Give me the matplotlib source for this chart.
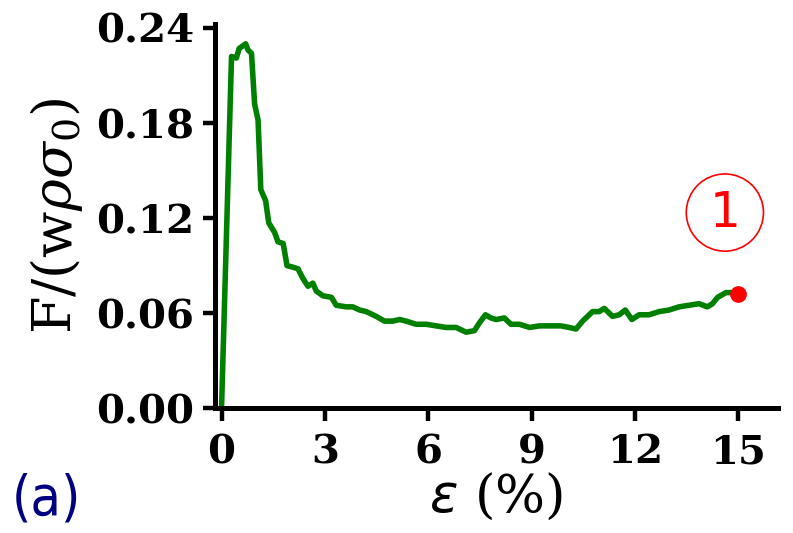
import matplotlib
matplotlib.use("Agg")
import matplotlib.pyplot as plt

# --- DATA ---
strain = [0.0, 0.29, 0.43, 0.51, 0.70, 0.77, 0.87, 0.96, 1.06, 1.14,
          1.28, 1.37, 1.54, 1.64, 1.79, 1.90, 2.08, 2.22, 2.36, 2.51,
          2.65, 2.75, 2.94, 3.19, 3.33, 3.62, 3.81, 4.01, 4.20, 4.49,
          4.73, 4.97, 5.17, 5.36, 5.65, 5.94, 6.23, 6.52, 6.81, 7.10,
          7.34, 7.49, 7.66, 7.82, 7.97, 8.21, 8.40, 8.65, 8.94, 9.23,
          9.52, 9.85, 10.09, 10.29, 10.48, 10.77, 10.96, 11.11, 11.35, 11.54,
          11.72, 11.91, 12.12, 12.41, 12.70, 12.99, 13.28, 13.57, 13.86, 14.10,
          14.25, 14.40, 14.64, 14.79, 15.0]
force = [0.0, 0.222, 0.221, 0.227, 0.230, 0.226, 0.224, 0.192, 0.182, 0.138,
         0.131, 0.117, 0.111, 0.105, 0.104, 0.090, 0.089, 0.088, 0.082, 0.077,
         0.079, 0.074, 0.071, 0.070, 0.065, 0.064, 0.064, 0.062, 0.061, 0.058,
         0.055, 0.055, 0.056, 0.055, 0.053, 0.053, 0.052, 0.051, 0.051, 0.048,
         0.049, 0.054, 0.059, 0.057, 0.056, 0.057, 0.053, 0.053, 0.051, 0.052,
         0.052, 0.052, 0.051, 0.050, 0.055, 0.061, 0.061, 0.063, 0.058, 0.059,
         0.062, 0.056, 0.059, 0.059, 0.061, 0.062, 0.064, 0.065, 0.066, 0.064,
         0.066, 0.070, 0.073, 0.073, 0.072]

end_strain = [15.0]
end_force = [0.072]

x_ticks = [0, 3, 6, 9, 12, 15]
y_ticks = [0.00, 0.06, 0.12, 0.18, 0.24]
y_tick_labels = ["0.00", "0.06", "0.12", "0.18", "0.24"]

# --- PLOT ---
plt.rcParams['mathtext.fontset'] = 'dejavuserif'

fig = plt.figure(figsize=(7.93, 5.33), dpi=100)
ax = fig.add_axes([0.2711, 0.234, 0.7099, 0.721])

ax.plot(strain, force, color='green', linewidth=4, solid_joinstyle='round')
ax.plot(end_strain, end_force, 'o', color='red', markersize=11, clip_on=False)

# circled state label
ax.text(14.61, 0.1235, "1", color='red', fontsize=35, ha='center', va='center',
        family='DejaVu Sans',
        bbox=dict(boxstyle='circle,pad=0.3', ec='red', fc='none', lw=1.2))

ax.set_xlim(-0.19, 16.15)
ax.set_ylim(0, 0.2425)
ax.set_xticks(x_ticks)
ax.set_yticks(y_ticks)
ax.set_yticklabels(y_tick_labels)

for lab in ax.get_xticklabels() + ax.get_yticklabels():
    lab.set_family('DejaVu Serif')
    lab.set_fontweight('bold')
    lab.set_fontsize(29)

ax.spines['top'].set_visible(False)
ax.spines['right'].set_visible(False)
ax.spines['left'].set_linewidth(3.6)
ax.spines['bottom'].set_linewidth(3.6)
ax.tick_params(width=3.2, length=9, pad=6)
ax.tick_params(axis='x', pad=9)

ax.set_ylabel(r"F/(w$\rho\sigma_0$)", fontsize=39, family='DejaVu Serif', labelpad=8)
ax.set_xlabel(r"$\varepsilon$ (%)", fontsize=38, family='DejaVu Serif', labelpad=0,
              math_fontfamily='dejavusans')

fig.text(0.059, 0.062, "(a)", color='navy', fontsize=40, family='DejaVu Sans',
         fontstretch='condensed', ha='center', va='center')

fig.savefig("out.png", dpi=100)
